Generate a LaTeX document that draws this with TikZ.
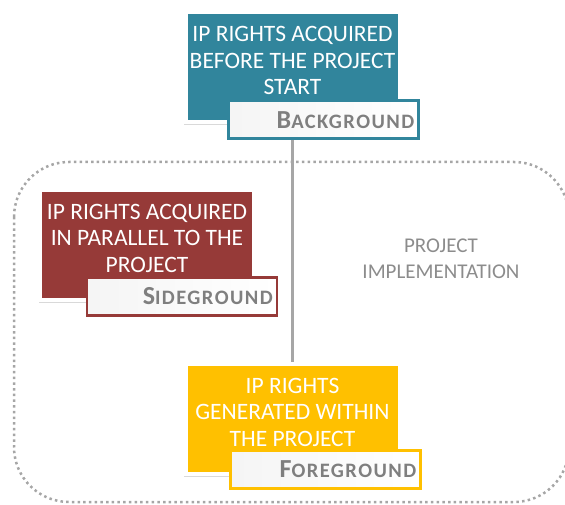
\documentclass[tikz,border=0pt]{standalone}
\usepackage{fontspec}
\setmainfont{Carlito}
\usepackage{tikz}
\usetikzlibrary{shadows}

\definecolor{bgteal}{HTML}{31859C}
\definecolor{sidered}{HTML}{963A38}
\definecolor{fgyellow}{HTML}{FFC000}
\definecolor{taggray}{HTML}{7F7F7F}
\definecolor{linkgray}{HTML}{A6A6A6}
\definecolor{implgray}{HTML}{8C8C8C}

\newcommand{\tagword}[2]{{\fontsize{26}{26}\selectfont #1}{\addfontfeature{LetterSpace=7}\fontsize{20.5}{20.5}\selectfont #2}}

\tikzset{
  rightsbox/.style={fill=#1, draw=white, line width=4pt, minimum width=214pt,
    minimum height=110pt, inner sep=0pt, align=center, text=white,
    font=\fontsize{23.5}{26.5}\selectfont, text depth=14pt,
    drop shadow={shadow xshift=-1.5pt, shadow yshift=-3pt, opacity=0.3}},
  tagbox/.style={draw=#1, left color=black!4, right color=white, line width=2.5pt,
    minimum height=38pt, text width=182pt, inner xsep=4pt, align=right,
    text=taggray, font=\bfseries, anchor=north east},
  linkline/.style={draw=linkgray, line width=3pt},
  projarea/.style={draw=linkgray, line width=2.5pt, dash pattern=on 2.5pt off 3.2pt,
    rounded corners=55pt},
  impltext/.style={align=center, text=implgray, font=\fontsize{21}{25.5}\selectfont}
}

\begin{document}
\begin{tikzpicture}[x=1pt,y=-1pt]
\useasboundingbox (0,0) rectangle (565,505);

% project area
\draw[projarea] (14,162) rectangle (569,502);
\node[impltext] (impl) at (441,259) {PROJECT\\IMPLEMENTATION};

% the three kinds of rights
\node[rightsbox=bgteal] (bgbox) at (292.5,67.5) {IP RIGHTS ACQUIRED\\BEFORE THE PROJECT\\START};
\node[rightsbox=sidered] (sidebox) at (147,245) {IP RIGHTS ACQUIRED\\IN PARALLEL TO THE\\PROJECT};
\node[rightsbox=fgyellow] (fgbox) at (292.5,419) {IP RIGHTS\\GENERATED WITHIN\\THE PROJECT};

\draw[linkline] (bgbox.south) -- (fgbox.north);

% tags
\node[tagbox=bgteal] (bgtag) at ([xshift=18pt,yshift=25pt]bgbox.south east) {\tagword{B}{ACKGROUND}};
\node[tagbox=sidered] (sidetag) at ([xshift=22pt,yshift=26pt]sidebox.south east) {\tagword{S}{IDEGROUND}};
\node[tagbox=fgyellow] (fgtag) at ([xshift=20pt,yshift=27pt]fgbox.south east) {\tagword{F}{OREGROUND}};

\end{tikzpicture}
\end{document}
